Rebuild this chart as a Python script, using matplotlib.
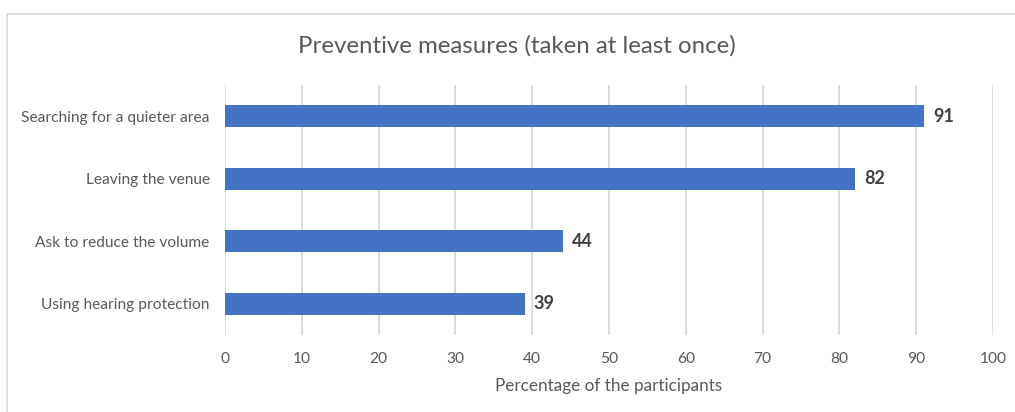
import matplotlib.pyplot as plt
from matplotlib.patches import Rectangle

categories = ["Searching for a quieter area", "Leaving the venue",
              "Ask to reduce the volume", "Using hearing protection"]
values = [91, 82, 44, 39]
xticks = [0, 10, 20, 30, 40, 50, 60, 70, 80, 90, 100]

plt.rcParams['font.family'] = ['Lato', 'DejaVu Sans']
text_color = '#595959'

fig = plt.figure(figsize=(10.15, 4.12), dpi=100)
ax = fig.add_axes([225 / 1015, 1 - 335 / 412, 768 / 1015, 250 / 412])

# chart frame like Excel
fig.patches.append(Rectangle((7 / 1015, -0.05), 1.1, 1 - 14 / 412 + 0.05,
                             transform=fig.transFigure, fill=False,
                             edgecolor='#d9d9d9', linewidth=1.2))

ypos = list(range(len(categories)))[::-1]
ax.barh(ypos, values, height=0.36, color='#4472c4', zorder=3)
for y, v in zip(ypos, values):
    ax.text(v + 1.2, y, f"{v}", va='center', ha='left', fontsize=13,
            fontweight='bold', color='#404040')

ax.set_xlim(0, 100)
ax.set_ylim(-0.5, 3.5)
ax.set_xticks(xticks)
ax.set_yticks(ypos)
ax.set_yticklabels(categories)
ax.grid(axis='x', color='#d9d9d9', linewidth=1.3, zorder=0)
ax.tick_params(length=0, labelsize=11.2, colors=text_color)
ax.tick_params(axis='x', pad=12)
ax.tick_params(axis='y', pad=11)
for s in ax.spines.values():
    s.set_visible(False)

ax.set_xlabel("Percentage of the participants", fontsize=12.3, color=text_color, labelpad=9)
fig.text(517 / 1015, 1 - 46 / 412, "Preventive measures (taken at least once)", ha='center',
         va='center', fontsize=17.3, color=text_color)

fig.savefig("out.png", dpi=100)
